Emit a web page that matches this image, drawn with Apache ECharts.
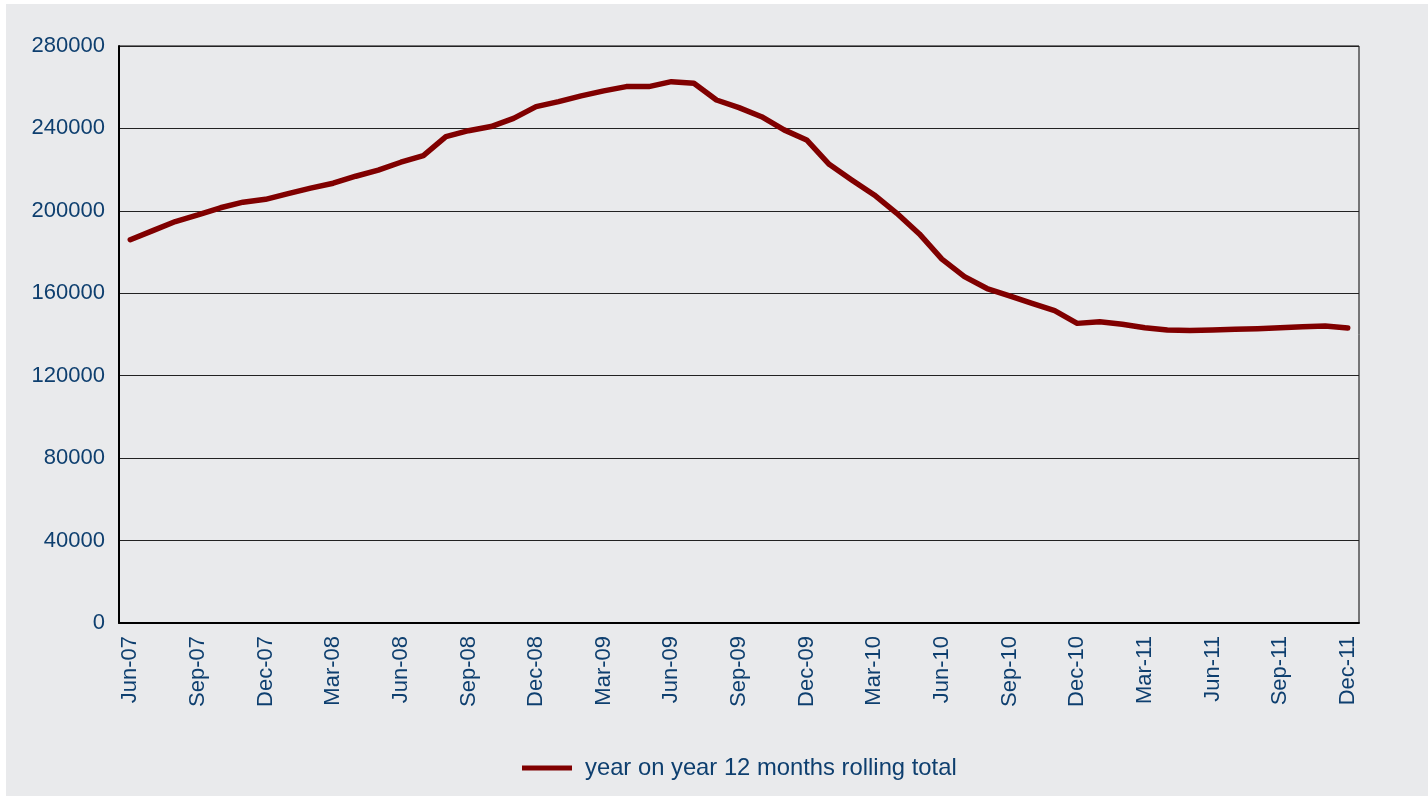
<!DOCTYPE html>
<html>
<head>
<meta charset="utf-8">
<script src="https://cdn.jsdelivr.net/npm/echarts@6/dist/echarts.min.js"></script>
<style>
html, body {
  margin: 0;
  padding: 0;
  background: #ffffff;
}
#chartWrapper {
  position: absolute;
  left: 6px;
  top: 4px;
  width: 1422px;
  height: 792px;
  background: #e9eaec;
}
</style>
</head>
<body>
<div id="chartWrapper"></div>
<script>
// 月份（横轴类目）
const months = [
  "Jun-07", "Jul-07", "Aug-07", "Sep-07", "Oct-07", "Nov-07", "Dec-07",
  "Jan-08", "Feb-08", "Mar-08", "Apr-08", "May-08", "Jun-08", "Jul-08",
  "Aug-08", "Sep-08", "Oct-08", "Nov-08", "Dec-08", "Jan-09", "Feb-09",
  "Mar-09", "Apr-09", "May-09", "Jun-09", "Jul-09", "Aug-09", "Sep-09",
  "Oct-09", "Nov-09", "Dec-09", "Jan-10", "Feb-10", "Mar-10", "Apr-10",
  "May-10", "Jun-10", "Jul-10", "Aug-10", "Sep-10", "Oct-10", "Nov-10",
  "Dec-10", "Jan-11", "Feb-11", "Mar-11", "Apr-11", "May-11", "Jun-11",
  "Jul-11", "Aug-11", "Sep-11", "Oct-11", "Nov-11", "Dec-11"
];

// year on year 12 months rolling total
const rollingTotal = [
  186000, 190400, 194800, 198000, 201500, 204200, 205600,
  208400, 211000, 213400, 216800, 219800, 223600, 226800,
  236000, 238900, 240900, 244900, 250600, 253000, 255800,
  258200, 260300, 260300, 262700, 261900, 253800, 250100,
  245700, 239300, 234400, 222600, 215000, 207700, 198800,
  188800, 176600, 168100, 162300, 158700, 155100, 151600,
  145400, 146200, 145000, 143300, 142200, 141900, 142200,
  142500, 142800, 143300, 143800, 144100, 143200
];

const seriesName = "year on year 12 months rolling total";

const labelColor = "#0e3f6f";
const fontFamily = "'Liberation Sans', Arial, sans-serif";

let chart = echarts.init(document.getElementById("chartWrapper"));

chart.setOption({
  animation: false,
  textStyle: { fontFamily: fontFamily },
  grid: {
    left: 113,
    right: 69,
    top: 42,
    bottom: 173,
    show: true,
    borderColor: "#000",
    borderWidth: 1,
    backgroundColor: "transparent"
  },
  legend: {
    left: 511,
    bottom: 11,
    icon: "rect",
    itemWidth: 50,
    itemHeight: 5,
    itemGap: 10,
    textStyle: {
      color: labelColor,
      fontSize: 23.8,
      fontFamily: fontFamily,
      padding: [0, 0, 0, 8]
    },
    data: [seriesName]
  },
  xAxis: {
    type: "category",
    data: months,
    boundaryGap: true,
    axisLine: { show: true, lineStyle: { color: "#000", width: 2 } },
    axisTick: { show: false },
    axisLabel: {
      interval: 2,
      rotate: 90,
      margin: 13,
      color: labelColor,
      fontSize: 22,
      fontFamily: fontFamily
    },
    splitLine: { show: false }
  },
  yAxis: {
    type: "value",
    min: 0,
    max: 280000,
    interval: 40000,
    axisLine: { show: true, lineStyle: { color: "#000", width: 2 } },
    axisTick: { show: false },
    axisLabel: {
      margin: 14,
      color: labelColor,
      fontSize: 22,
      fontFamily: fontFamily,
      formatter: function (v) { return String(v); }
    },
    splitLine: { show: true, lineStyle: { color: "#222", width: 1 } }
  },
  series: [
    {
      name: seriesName,
      type: "line",
      data: rollingTotal,
      symbol: "none",
      itemStyle: { color: "#800000" },
      lineStyle: { color: "#800000", width: 5.5, cap: "round", join: "round" }
    }
  ]
});
</script>
</body>
</html>
